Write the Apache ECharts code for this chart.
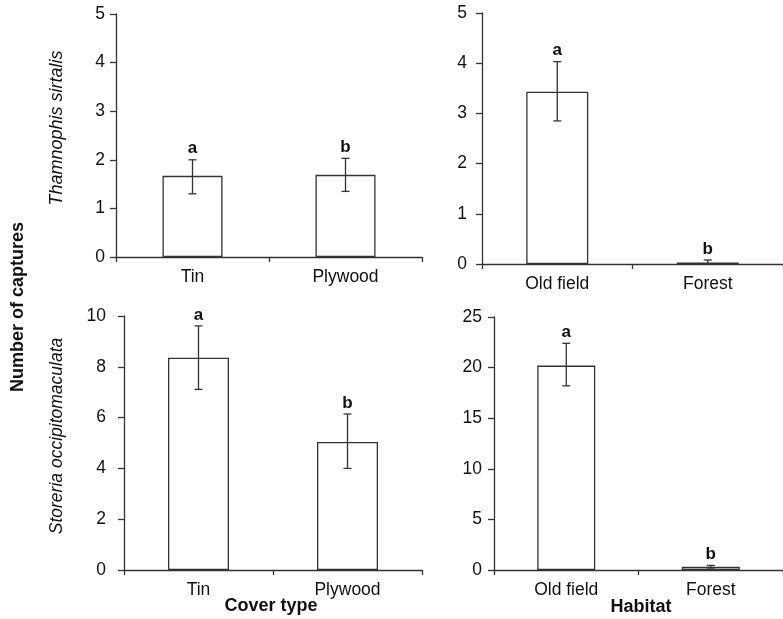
<!DOCTYPE html>
<html><head><meta charset="utf-8">
<script src="https://cdn.jsdelivr.net/npm/echarts@6/dist/echarts.min.js"></script>
<style>html,body{margin:0;padding:0;background:#fff}#c{width:783px;height:619px}</style>
</head><body><div id="c"></div>
<script>
// ---- data ----
const coverCats = ['Tin', 'Plywood'];
const habitatCats = ['Old field', 'Forest'];
const letters = ['a', 'b'];

const thamCoverMean = [1.67, 1.69];
const thamCoverLo   = [1.30, 1.35];
const thamCoverHi   = [2.00, 2.03];

const thamHabMean = [3.43, 0.03];
const thamHabLo   = [2.85, 0.00];
const thamHabHi   = [4.03, 0.08];

const storCoverMean = [8.36, 5.04];
const storCoverLo   = [7.11, 4.00];
const storCoverHi   = [9.61, 6.14];

const storHabMean = [20.2, 0.33];
const storHabLo   = [18.2, 0.20];
const storHabHi   = [22.4, 0.45];

const yMax = [5, 5, 10, 25];
const yInterval = [1, 1, 2, 5];

// ---- chart ----
const LINE = '#333';
const TXT = '#111';
const FONT = '"Liberation Sans", Arial, sans-serif';

const panels = [
  {cats: coverCats, mean: thamCoverMean, lo: thamCoverLo, hi: thamCoverHi, grid: {left: 116, top: 14, width: 306, height: 243}, bw: 60, ym: 11},
  {cats: habitatCats, mean: thamHabMean, lo: thamHabLo, hi: thamHabHi, grid: {left: 482, top: 13, width: 309, height: 251}, bw: 62, ym: 15},
  {cats: coverCats, mean: storCoverMean, lo: storCoverLo, hi: storCoverHi, grid: {left: 124, top: 316, width: 298, height: 254}, bw: 61, ym: 18},
  {cats: habitatCats, mean: storHabMean, lo: storHabLo, hi: storHabHi, grid: {left: 494, top: 317, width: 294, height: 253}, bw: 58, ym: 12}
];

const grid = [], xAxis = [], yAxis = [], series = [];
panels.forEach((p, i) => {
  grid.push(Object.assign({containLabel: false}, p.grid));
  xAxis.push({
    type: 'category', gridIndex: i, data: p.cats,
    axisLine: {lineStyle: {color: LINE, width: 1.3}},
    axisTick: {show: true, length: 5, lineStyle: {color: LINE, width: 1.3}},
    axisLabel: {color: TXT, fontSize: 17.5, fontFamily: FONT, margin: 11}
  });
  yAxis.push({
    type: 'value', gridIndex: i, min: 0, max: yMax[i], interval: yInterval[i],
    axisLine: {show: true, lineStyle: {color: LINE, width: 1.3}},
    axisTick: {show: true, length: 6, lineStyle: {color: LINE, width: 1.3}},
    splitLine: {show: false},
    axisLabel: {color: TXT, fontSize: 17.5, fontFamily: FONT, margin: p.ym}
  });
  series.push({
    type: 'bar', xAxisIndex: i, yAxisIndex: i, data: p.mean, barWidth: p.bw,
    itemStyle: {
      color: (params) => (i === 3 && params.dataIndex === 1) ? '#c8c8c8' : '#fff',
      borderColor: LINE, borderWidth: 1.3
    },
    silent: true, animation: false
  });
  series.push({
    type: 'custom', xAxisIndex: i, yAxisIndex: i,
    data: p.mean.map((m, k) => [k, p.lo[k], p.hi[k], letters[k]]),
    renderItem: (params, api) => {
      const x = api.coord([api.value(0), 0])[0];
      const lo = api.coord([api.value(0), api.value(1)])[1];
      const hi = api.coord([api.value(0), api.value(2)])[1];
      const cap = 4;
      const st = {stroke: LINE, lineWidth: 1.3};
      return {type: 'group', children: [
        {type: 'line', shape: {x1: x, y1: lo, x2: x, y2: hi}, style: st},
        {type: 'line', shape: {x1: x - cap, y1: hi, x2: x + cap, y2: hi}, style: st},
        {type: 'line', shape: {x1: x - cap, y1: lo, x2: x + cap, y2: lo}, style: st},
        {type: 'text', style: {text: letters[params.dataIndex], x: x, y: hi - 11,
          align: 'center', verticalAlign: 'middle', fill: TXT,
          font: 'bold 17px ' + FONT}}
      ]};
    },
    silent: true, animation: false, z: 5
  });
});

const chart = echarts.init(document.getElementById('c'));
chart.setOption({
  animation: false,
  grid, xAxis, yAxis, series,
  graphic: [
    {type: 'text', x: 57, y: 128, rotation: Math.PI / 2, style: {text: 'Thamnophis sirtalis', align: 'center', verticalAlign: 'middle', fill: TXT, font: 'italic 18px ' + FONT}},
    {type: 'text', x: 57, y: 436, rotation: Math.PI / 2, style: {text: 'Storeria occipitomaculata', align: 'center', verticalAlign: 'middle', fill: TXT, font: 'italic 17.5px ' + FONT}},
    {type: 'text', x: 18, y: 307, rotation: Math.PI / 2, style: {text: 'Number of captures', align: 'center', verticalAlign: 'middle', fill: TXT, font: 'bold 18px ' + FONT}},
    {type: 'text', x: 271, y: 606, style: {text: 'Cover type', align: 'center', verticalAlign: 'middle', fill: TXT, font: 'bold 18px ' + FONT}},
    {type: 'text', x: 641, y: 607, style: {text: 'Habitat', align: 'center', verticalAlign: 'middle', fill: TXT, font: 'bold 18px ' + FONT}}
  ]
});
</script></body></html>
